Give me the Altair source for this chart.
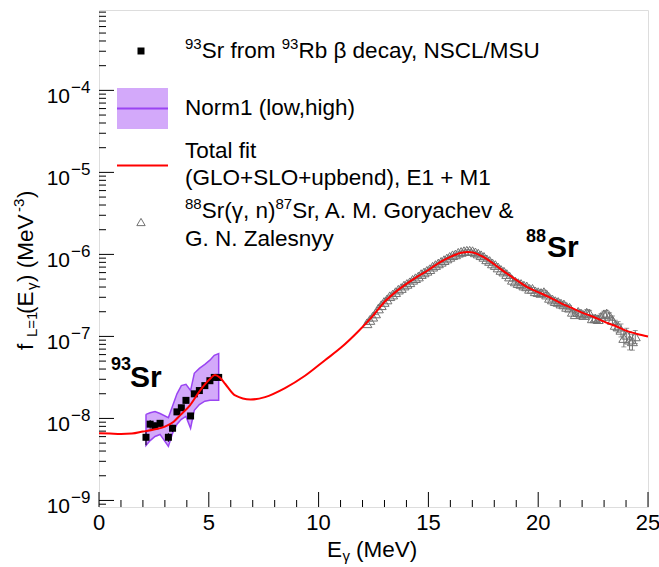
import altair as alt
import pandas as pd

FONT = "Liberation Sans"

# ---------------- data ----------------
# 93Sr from 93Rb beta decay (Oslo method), MeV^-3
SR93_E = [2.14, 2.33, 2.55, 2.78, 3.16, 3.35, 3.55, 3.75, 3.96, 4.17, 4.34, 4.57, 4.82, 5.05, 5.25, 5.45]
SR93_F = [0.589e-8, 0.851e-8, 0.813e-8, 0.871e-8, 0.589e-8, 0.759e-8, 1.202e-8, 1.349e-8,
          1.660e-8, 1.072e-8, 1.995e-8, 2.188e-8, 2.512e-8, 2.884e-8, 3.162e-8, 3.162e-8]
SR93_ERR_PCT = [20, 12, 10, 10, 12, 10, 8, 8, 8, 8, 7, 7, 6, 6, 6, 6]

# Norm1 (low, high) band
BAND_LOW = [0.468e-8, 0.537e-8, 0.603e-8, 0.638e-8, 0.457e-8, 0.661e-8, 0.851e-8, 0.977e-8,
            1.059e-8, 0.759e-8, 1.259e-8, 1.479e-8, 1.622e-8, 1.660e-8, 1.660e-8, 1.660e-8]
BAND_HIGH = [1.122e-8, 1.175e-8, 1.216e-8, 1.148e-8, 1.023e-8, 1.413e-8, 1.995e-8, 2.512e-8,
             2.600e-8, 2.188e-8, 3.548e-8, 4.074e-8, 4.571e-8, 5.129e-8, 5.888e-8, 6.166e-8]

# Total fit (GLO+SLO+upbend), E1 + M1
FIT_E = [0, 0.5, 1.0, 1.5, 2.0, 2.5, 3.0, 3.4, 3.7, 4.14, 4.6, 5.05, 5.28, 5.5, 5.75, 6.2, 6.9,
         7.56, 8.47, 9.38, 10.29, 11.05, 11.8, 12.5, 13.0, 13.5, 14.0, 14.5, 15.0, 15.5, 16.0,
         16.5, 16.8, 17.0, 17.5, 18.0, 18.5, 19.0, 19.5, 20.0, 20.5, 21.0, 21.5, 22.0, 22.5,
         23.0, 23.5, 24.0, 24.5, 25.0]
FIT_F = [6.607e-9, 6.531e-9, 6.457e-9, 6.531e-9, 6.918e-9, 7.328e-9, 7.943e-9, 9.120e-9,
         1.096e-8, 1.445e-8, 2.188e-8, 3.020e-8, 3.388e-8, 3.162e-8, 2.630e-8, 1.905e-8,
         1.698e-8, 1.820e-8, 2.344e-8, 3.311e-8, 5.129e-8, 7.413e-8, 1.148e-7, 1.820e-7,
         2.630e-7, 3.467e-7, 4.365e-7, 5.370e-7, 6.457e-7, 7.943e-7, 9.333e-7, 1.047e-6,
         1.072e-6, 1.059e-6, 9.333e-7, 7.586e-7, 6.026e-7, 4.898e-7, 3.981e-7, 3.467e-7,
         3.020e-7, 2.570e-7, 2.239e-7, 1.950e-7, 1.738e-7, 1.514e-7, 1.349e-7, 1.175e-7,
         1.072e-7, 1.000e-7]

# 88Sr(gamma,n)87Sr, Goryachev & Zalesnyy
TRI_E = [12.20, 12.33, 12.46, 12.59, 12.72, 12.85, 12.98, 13.11, 13.24, 13.37,
         13.50, 13.63, 13.76, 13.89, 14.02, 14.15, 14.28, 14.41, 14.54, 14.67,
         14.80, 14.93, 15.06, 15.19, 15.32, 15.45, 15.58, 15.71, 15.84, 15.97,
         16.10, 16.23, 16.36, 16.49, 16.62, 16.75, 16.88, 17.01, 17.14, 17.27,
         17.40, 17.53, 17.66, 17.79, 17.92, 18.05, 18.18, 18.31, 18.44, 18.57,
         18.70, 18.83, 18.96, 19.09, 19.22, 19.35, 19.48, 19.61, 19.74, 19.87,
         20.00, 20.13, 20.26, 20.39, 20.52, 20.65, 20.78, 20.91, 21.04, 21.17,
         21.30, 21.43, 21.56, 21.69, 21.82, 21.95, 22.08, 22.21, 22.34, 22.47,
         22.60, 22.73, 22.86, 22.99, 23.12, 23.25, 23.38, 23.51, 23.64, 23.77,
         23.90, 24.03, 24.16, 24.29, 24.42]
TRI_F_E7 = [1.445, 1.585, 1.738, 1.905, 2.188, 2.399, 2.630, 2.818, 3.090, 3.236,
            3.467, 3.715, 3.890, 4.169, 4.365, 4.571, 4.898, 5.129, 5.370, 5.754,
            6.026, 6.310, 6.607, 7.079, 7.413, 7.762, 8.128, 8.511, 8.913, 9.333,
            9.772, 10.00, 10.47, 10.72, 10.96, 11.09, 11.09, 10.96, 10.59, 10.23,
            9.772, 9.333, 8.710, 8.318, 7.762, 7.413, 6.918, 6.457, 6.166, 5.754,
            5.370, 4.898, 4.677, 4.467, 4.365, 4.169, 4.074, 3.802, 3.802, 3.548,
            3.467, 3.388, 3.467, 3.236, 2.951, 2.818, 2.692, 2.630, 2.512, 2.455,
            2.291, 2.239, 1.995, 1.862, 1.995, 1.905, 1.820, 1.950, 1.905, 1.660,
            1.660, 1.622, 1.738, 1.862, 1.905, 1.778, 1.585, 1.380, 1.318, 1.202,
            0.955, 1.047, 0.912, 0.871, 1.000]
TRI_ERR_PCT = [3, 3, 3, 3, 3, 3, 3, 3, 3, 3,
               3, 3, 3, 3, 3, 3, 3, 3, 3, 3,
               3, 3, 3, 3, 3, 3, 3, 3, 3, 3,
               3, 3, 3, 3, 3, 3, 3, 3, 3, 3,
               4, 4, 4, 4, 4, 4, 4, 4, 4, 4,
               4, 4, 4, 4, 4, 4, 4, 4, 4, 4,
               6, 6, 6, 6, 6, 6, 6, 6, 6, 6,
               6, 6, 6, 6, 6, 9, 9, 9, 9, 9,
               9, 9, 9, 9, 9, 9, 12, 14, 15, 18,
               22, 20, 25, 22, 18]

X_MAJOR = [0, 5, 10, 15, 20, 25]
X_MINOR = [1, 2, 3, 4, 6, 7, 8, 9, 11, 12, 13, 14, 16, 17, 18, 19, 21, 22, 23, 24]
Y_DECADE_EXP = [-9, -8, -7, -6, -5, -4]

# ---------------- frames ----------------
sr93 = pd.DataFrame({"E": SR93_E, "f": SR93_F, "err": SR93_ERR_PCT})
sr93["lo"] = sr93["f"] * (1 - sr93["err"] / 100)
sr93["hi"] = sr93["f"] * (1 + sr93["err"] / 100)

band = pd.DataFrame({"E": SR93_E, "low": BAND_LOW, "high": BAND_HIGH})
poly_rows = [(e, h) for e, h in zip(SR93_E, BAND_HIGH)] + \
            [(e, l) for e, l in zip(SR93_E[::-1], BAND_LOW[::-1])] + [(SR93_E[0], BAND_HIGH[0])]
band_poly = pd.DataFrame({"E": [r[0] for r in poly_rows], "f": [r[1] for r in poly_rows],
                          "i": list(range(len(poly_rows)))})

fit = pd.DataFrame({"E": FIT_E, "f": FIT_F})

tri = pd.DataFrame({"E": TRI_E, "f": [v * 1e-7 for v in TRI_F_E7], "err": TRI_ERR_PCT})
tri["lo"] = tri["f"] * (1 - tri["err"] / 100)
tri["hi"] = tri["f"] * (1 + tri["err"] / 100)

ydec = pd.DataFrame({"v": [10.0 ** k for k in Y_DECADE_EXP],
                     "ten": ["10"] * len(Y_DECADE_EXP),
                     "ex": ["\u2212" + str(-k) for k in Y_DECADE_EXP]})
xlab = pd.DataFrame({"v": X_MAJOR, "t": [str(v) for v in X_MAJOR]})

Y_MAJOR_TICKS = [10.0 ** k for k in range(-9, -3)]
Y_MINOR_TICKS = [m * 10.0 ** k for k in range(-10, -3) for m in range(2, 10)
                 if 10 ** -9.08 < m * 10.0 ** k < 10 ** -3.02]

W, H = 549, 497
XS = alt.Scale(domain=[0, 25], nice=False, zero=False)
YS = alt.Scale(type="log", domain=[10 ** -9.08, 10 ** -3.02], nice=False)


def X(field="E"):
    return alt.X(f"{field}:Q", scale=XS, axis=None)


def Y(field="f"):
    return alt.Y(f"{field}:Q", scale=YS, axis=None)


PURPLE_FILL = "#d3a9fa"
PURPLE_LINE = "#9a45f2"
GRAY = "#717171"

layers = []
# band
layers.append(alt.Chart(band).mark_area(color=PURPLE_FILL, opacity=1, interpolate="linear").encode(
    x=X(), y=Y("low"), y2="high:Q"))
layers.append(alt.Chart(band_poly).mark_line(color=PURPLE_LINE, strokeWidth=1.5).encode(
    x=X(), y=Y("f"), order=alt.Order("i:Q")))
# 93Sr squares
layers.append(alt.Chart(sr93).mark_rule(color="black", strokeWidth=1).encode(
    x=X(), y=Y("lo"), y2="hi:Q"))
layers.append(alt.Chart(sr93).mark_point(shape="square", filled=True, color="black", size=49, opacity=1).encode(
    x=X(), y=Y("f")))
# 88Sr triangles
layers.append(alt.Chart(tri).mark_rule(color=GRAY, strokeWidth=1).encode(x=X(), y=Y("lo"), y2="hi:Q"))
layers.append(alt.Chart(tri).mark_tick(color=GRAY, orient="horizontal", size=5, thickness=1).encode(
    x=X(), y=Y("lo")))
layers.append(alt.Chart(tri).mark_tick(color=GRAY, orient="horizontal", size=5, thickness=1).encode(
    x=X(), y=Y("hi")))
layers.append(alt.Chart(tri).mark_point(shape="triangle-up", filled=False, color=GRAY, size=100,
                                         strokeWidth=1, opacity=1).encode(x=X(), y=Y("f")))
# fit curve on top
layers.append(alt.Chart(fit).mark_line(color="#ff0000", strokeWidth=2, interpolate="monotone").encode(
    x=X(), y=Y("f")))

# inner axis ticks (ROOT style), positioned through the scales
xt_maj = pd.DataFrame({"v": X_MAJOR})
xt_min = pd.DataFrame({"v": X_MINOR})
yt_maj = pd.DataFrame({"v": Y_MAJOR_TICKS})
yt_min = pd.DataFrame({"v": Y_MINOR_TICKS})
layers += [
    alt.Chart(xt_maj).mark_rule(color="black", strokeWidth=1).encode(
        x=X("v"), y=alt.value(H), y2=alt.value(H - 15)),
    alt.Chart(xt_min).mark_rule(color="black", strokeWidth=1).encode(
        x=X("v"), y=alt.value(H), y2=alt.value(H - 7)),
    alt.Chart(yt_maj).mark_rule(color="black", strokeWidth=1).encode(
        y=Y("v"), x=alt.value(0), x2=alt.value(15)),
    alt.Chart(yt_min).mark_rule(color="black", strokeWidth=1).encode(
        y=Y("v"), x=alt.value(0), x2=alt.value(7)),
]

# x tick labels
layers.append(alt.Chart(xlab).mark_text(align="center", baseline="alphabetic", font=FONT, fontSize=22,
                                         color="black").encode(
    x=X("v"), y=alt.value(H + 23), text="t:N"))

# y tick labels (10^n)
layers.append(alt.Chart(ydec).mark_text(align="right", baseline="alphabetic", font=FONT, fontSize=21,
                                         color="black", dy=13).encode(
    x=alt.value(-29), y=Y("v"), text="ten:N"))
layers.append(alt.Chart(ydec).mark_text(align="left", baseline="alphabetic", font=FONT, fontSize=17,
                                         color="black", dy=3).encode(
    x=alt.value(-28), y=Y("v"), text="ex:N"))

dummy = pd.DataFrame({"d": [0]})


def txt(s, x, y, size, align="left", angle=0, weight="normal", color="black"):
    kw = dict(text=s, fontSize=size, font=FONT, align=align, baseline="alphabetic",
              color=color, fontWeight=weight)
    if angle:
        kw["angle"] = angle
    return alt.Chart(dummy).mark_text(**kw).encode(x=alt.value(x), y=alt.value(y))


# axis titles
layers += [
    txt("E", 228, 547, 22.5),
    txt("\u03b3", 243.5, 551, 15),
    txt("(MeV)", 257, 547, 22.5),
    txt("f", -66, 340, 22.5, angle=270),
    txt("L=1", -62, 327, 15, angle=270),
    txt("(E", -66, 304, 22.5, angle=270),
    txt("\u03b3", -62, 280, 15, angle=270),
    txt(") (MeV", -66, 272, 22.5, angle=270),
    txt("-3", -75, 202, 15, angle=270),
    txt(")", -66, 188, 22.5, angle=270),
]

# nucleus annotations
layers += [
    txt("93", 12, 360, 18, weight="bold"),
    txt("Sr", 31, 377, 30, weight="bold"),
    txt("88", 427, 232, 18, weight="bold"),
    txt("Sr", 448, 247, 30, weight="bold"),
]

# legend
LX = 86
layers += [
    alt.Chart(dummy).mark_point(shape="square", filled=True, color="black", size=49, opacity=1).encode(
        x=alt.value(42), y=alt.value(41)),
    txt("93", LX, 39, 15),
    txt("Sr from ", LX + 16.7, 48, 22.5),
    txt("93", LX + 96.7, 39, 15),
    txt("Rb \u03b2 decay, NSCL/MSU", LX + 113.4, 48, 22.5),
    alt.Chart(dummy).mark_rect(color=PURPLE_FILL, opacity=1).encode(
        x=alt.value(18), x2=alt.value(69), y=alt.value(78), y2=alt.value(119)),
    alt.Chart(dummy).mark_rule(color=PURPLE_LINE, strokeWidth=2).encode(
        x=alt.value(18), x2=alt.value(69), y=alt.value(98.5)),
    txt("Norm1 (low,high)", LX, 105, 22.5),
    alt.Chart(dummy).mark_rule(color="#ff0000", strokeWidth=2).encode(
        x=alt.value(18), x2=alt.value(69), y=alt.value(155.5)),
    txt("Total fit", LX, 148, 22.5),
    txt("(GLO+SLO+upbend), E1 + M1", LX, 175, 22.5),
    alt.Chart(dummy).mark_point(shape="triangle-up", filled=False, color=GRAY, size=70,
                                strokeWidth=1, opacity=1).encode(x=alt.value(42), y=alt.value(212)),
    txt("88", LX, 199, 15),
    txt("Sr(\u03b3, n)", LX + 16.7, 208, 22.5),
    txt("87", LX + 90.5, 199, 15),
    txt("Sr, A. M. Goryachev &", LX + 107.2, 208, 22.5),
    txt("G. N. Zalesnyy", LX, 236, 22.5),
]

chart = alt.layer(*layers).properties(
    width=W, height=H,
    autosize=alt.AutoSizeParams(type="none"),
    padding={"left": 99, "top": 10, "right": 11, "bottom": 60},
).configure_view(stroke="black", strokeWidth=1).configure(background="white")

chart.save("out.html", embed_options={"renderer": "svg", "actions": False})
